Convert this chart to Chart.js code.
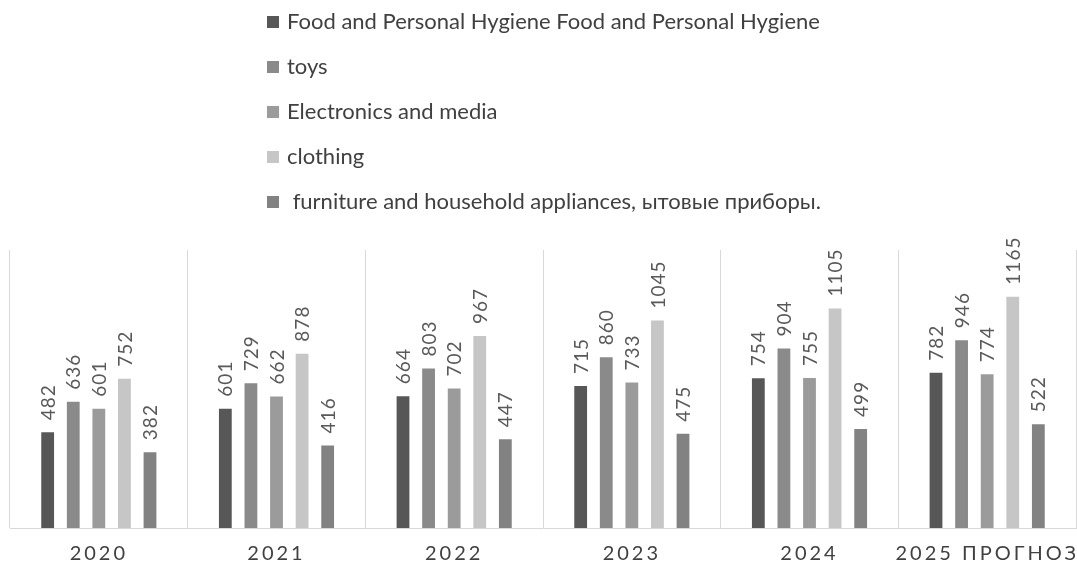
<!DOCTYPE html>
<html>
<head>
<meta charset="utf-8">
<script src="https://cdn.jsdelivr.net/npm/chart.js@4.4.1/dist/chart.umd.min.js"></script>
<style>
  html, body { margin: 0; padding: 0; background: #ffffff; }
  #wrap { width: 1077px; height: 566px; position: relative; }
</style>
</head>
<body>
<div id="wrap"><canvas id="c"></canvas></div>
<script>
// Categories (years)
const years = ['2020', '2021', '2022', '2023', '2024', '2025 ПРОГНОЗ'];

// Series labels
const seriesNames = [
  'Food and Personal Hygiene Food and Personal Hygiene',
  'toys',
  'Electronics and media',
  'clothing',
  ' furniture and household appliances, ытовые приборы.'
];

// Series values per year
const foodHygiene = [482, 601, 664, 715, 754, 782];
const toys        = [636, 729, 803, 860, 904, 946];
const electronics = [601, 662, 702, 733, 755, 774];
const clothing    = [752, 878, 967, 1045, 1105, 1165];
const furniture   = [382, 416, 447, 475, 499, 522];

const seriesColors = ['#575757', '#8a8a8a', '#9b9b9b', '#c6c6c6', '#828282'];
const FONT = 'Lato, "Liberation Sans", sans-serif';

const seriesValues = [foodHygiene, toys, electronics, clothing, furniture];

const datasets = seriesValues.map((vals, i) => ({
  label: seriesNames[i],
  data: vals,
  backgroundColor: seriesColors[i],
  borderWidth: 0,
  categoryPercentage: 0.72,
  barPercentage: 0.5
}));

// Vertical legend list above the plot
const legendList = {
  id: 'legendList',
  afterDraw(chart) {
    const ctx = chart.ctx;
    ctx.save();
    ctx.letterSpacing = '0px';
    ctx.font = '22px ' + FONT;
    ctx.textAlign = 'left';
    ctx.textBaseline = 'middle';
    chart.data.datasets.forEach((ds, i) => {
      const y = 22 + i * 45;
      ctx.fillStyle = ds.backgroundColor;
      ctx.fillRect(267, y - 6, 12, 12);
      ctx.fillStyle = '#404040';
      ctx.fillText(ds.label, 287, y);
    });
    ctx.restore();
  }
};

// Rotated value labels above each bar
const valueLabels = {
  id: 'valueLabels',
  afterDatasetsDraw(chart) {
    const ctx = chart.ctx;
    ctx.save();
    ctx.letterSpacing = '1px';
    ctx.font = '19px ' + FONT;
    ctx.fillStyle = '#595959';
    ctx.textAlign = 'left';
    ctx.textBaseline = 'middle';
    chart.data.datasets.forEach((ds, i) => {
      chart.getDatasetMeta(i).data.forEach((bar, j) => {
        ctx.save();
        ctx.translate(bar.x + 1, bar.y - 12);
        ctx.rotate(-Math.PI / 2);
        ctx.fillText(String(ds.data[j]), 0, 0);
        ctx.restore();
      });
    });
    ctx.restore();
  }
};

// Spaced-out category labels on the x axis
const spacedTicks = {
  id: 'spacedTicks',
  beforeDraw(chart) { chart.ctx.letterSpacing = '3px'; },
  beforeDatasetsDraw(chart) { chart.ctx.letterSpacing = '0px'; }
};

new Chart(document.getElementById('c'), {
  type: 'bar',
  data: { labels: years, datasets },
  options: {
    responsive: true,
    maintainAspectRatio: false,
    animation: false,
    layout: { padding: { top: 250, left: 10, right: 1, bottom: 0 } },
    plugins: {
      legend: { display: false },
      tooltip: { enabled: false }
    },
    scales: {
      x: {
        afterFit(scale) { scale.height = 38; },
        grid: { color: '#d9d9d9', lineWidth: 1, drawTicks: false, offset: true },
        border: { color: '#d9d9d9' },
        ticks: {
          color: '#404040',
          font: { family: FONT, size: 20 },
          padding: 14,
          maxRotation: 0
        }
      },
      y: {
        display: false,
        min: 0,
        max: 1400
      }
    }
  },
  plugins: [spacedTicks, valueLabels, legendList]
});
</script>
</body>
</html>
